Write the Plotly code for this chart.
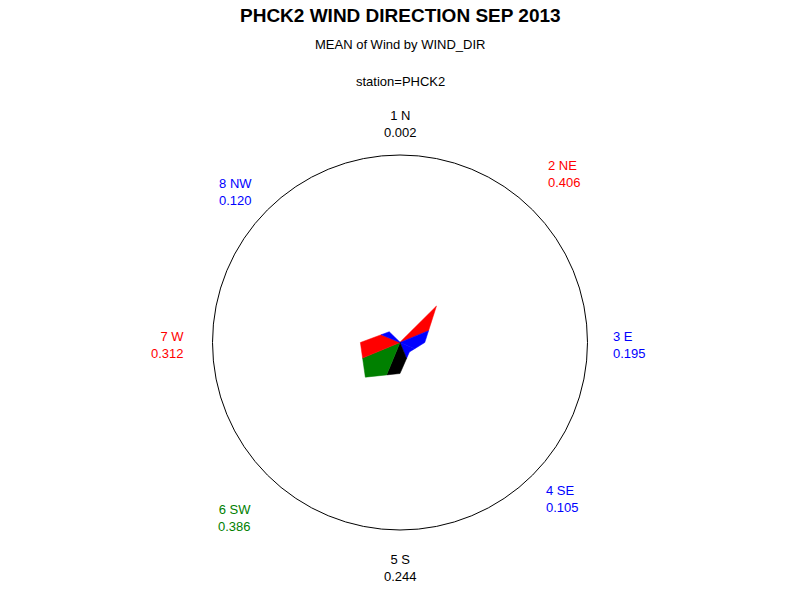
import math
import plotly.graph_objects as go

# ---- data ----
directions = ["1 N", "2 NE", "3 E", "4 SE", "5 S", "6 SW", "7 W", "8 NW"]
angles = [0, 45, 90, 135, 180, 225, 270, 315]  # compass degrees
mean_wind = [0.002, 0.406, 0.195, 0.105, 0.244, 0.386, 0.312, 0.120]
slice_colors = ["black", "#FF0000", "#0000FF", "#0000FF", "black", "#008000", "#FF0000", "#0000FF"]

title = "PHCK2 WIND DIRECTION SEP 2013"
subtitle = "MEAN of Wind by WIND_DIR"
byline = "station=PHCK2"

# ---- geometry / styling ----
W, H = 800, 600
cx_px, cy_px = 400, 342.5      # polar centre (px from top-left)
rad_px = 187.5                 # outer circle radius (px)
r_max = 1.476                  # value at outer circle
# label anchor offsets from the centre (px): x is the near edge (or centre), y is the block middle
label_dx = [0, 146.7, 211.7, 145, 0, -148, -215, -147]
label_dy = [-218.5, -168.5, 2, 156.5, 225.5, 175, 2, -150.5]

half = 22.5
n = len(mean_wind)


def bisector(r1, r2):
    s = r1 + r2
    if s == 0:
        return 0.0
    return 2 * r1 * r2 * math.cos(math.radians(half)) / s


fig = go.Figure()
for i in range(n):
    v = mean_wind[i]
    vp = mean_wind[(i - 1) % n]
    vn = mean_wind[(i + 1) % n]
    rl = bisector(vp, v)
    rr = bisector(v, vn)
    a = angles[i]
    fig.add_trace(go.Scatterpolar(
        r=[0, rl, v, rr, 0],
        theta=[a, a - half, a, a + half, a],
        mode="lines",
        fill="toself",
        fillcolor=slice_colors[i],
        line=dict(color=slice_colors[i], width=0.5),
        hoverinfo="skip",
        showlegend=False,
    ))

fig.update_layout(
    width=W, height=H,
    margin=dict(l=0, r=0, t=0, b=0),
    paper_bgcolor="white",
    plot_bgcolor="white",
    font=dict(family="Arial, Liberation Sans, sans-serif", color="black"),
    polar=dict(
        domain=dict(x=[(cx_px - rad_px) / W, (cx_px + rad_px) / W],
                    y=[(H - cy_px - rad_px) / H, (H - cy_px + rad_px) / H]),
        bgcolor="white",
        angularaxis=dict(rotation=90, direction="clockwise", showgrid=False,
                         showticklabels=False, ticks="", showline=True,
                         linecolor="black", linewidth=1),
        radialaxis=dict(visible=False, range=[0, r_max], showgrid=False),
    ),
    showlegend=False,
)

annotations = [
    dict(text="<b>" + title + "</b>", x=0.5, y=1 - 16 / H, xref="paper", yref="paper",
         xanchor="center", yanchor="middle", showarrow=False,
         font=dict(size=19, color="black")),
    dict(text=subtitle, x=0.5, y=1 - 45 / H, xref="paper", yref="paper",
         xanchor="center", yanchor="middle", showarrow=False,
         font=dict(size=13, color="black")),
    dict(text=byline, x=0.5, y=1 - 81 / H, xref="paper", yref="paper",
         xanchor="center", yanchor="middle", showarrow=False,
         font=dict(size=13, color="black")),
]

for i in range(n):
    dx, dy = label_dx[i], label_dy[i]
    if dx == 0:
        xa = "center"
    elif dx > 0:
        xa = "left"
    else:
        xa = "right"
    annotations.append(dict(
        text=f"{directions[i]}<br>{mean_wind[i]:.3f}",
        x=(cx_px + dx) / W, y=1 - (cy_px + dy) / H, xref="paper", yref="paper",
        xanchor=xa, yanchor="middle", align=xa, showarrow=False, borderpad=0,
        font=dict(size=13, color=slice_colors[i]),
    ))

fig.update_layout(annotations=annotations)
fig.write_html("out.html",
               config={"displayModeBar": False},
               post_script="document.body.style.margin='0';document.body.style.padding='0';")
